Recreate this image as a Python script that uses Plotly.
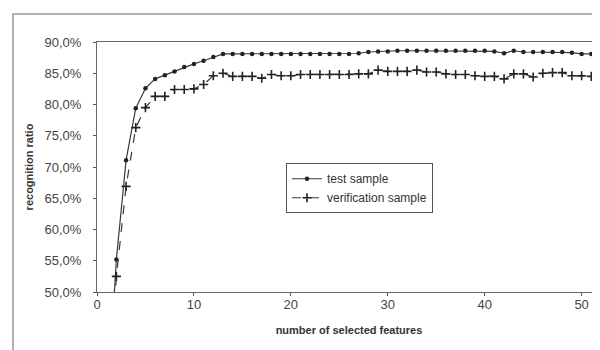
import plotly.graph_objects as go

features = list(range(1, 53))

test_sample = [
    30.0, 55.2, 71.1, 79.4, 82.6, 84.1, 84.7, 85.3, 86.0, 86.5,
    87.0, 87.6, 88.1, 88.1, 88.1, 88.1, 88.1, 88.1, 88.1, 88.1,
    88.1, 88.1, 88.1, 88.1, 88.1, 88.1, 88.2, 88.4, 88.5, 88.5,
    88.6, 88.6, 88.6, 88.6, 88.6, 88.6, 88.6, 88.6, 88.6, 88.6,
    88.5, 88.2, 88.6, 88.4, 88.4, 88.4, 88.4, 88.4, 88.3, 88.1,
    88.1, 88.1,
]

verification_sample = [
    28.0, 52.5, 66.9, 76.3, 79.5, 81.3, 81.3, 82.4, 82.4, 82.5,
    83.2, 84.6, 85.0, 84.5, 84.5, 84.5, 84.2, 84.8, 84.6, 84.6,
    84.8, 84.8, 84.8, 84.8, 84.8, 84.8, 84.9, 84.9, 85.5, 85.3,
    85.3, 85.3, 85.5, 85.2, 85.2, 84.9, 84.8, 84.8, 84.6, 84.5,
    84.5, 84.1, 84.9, 84.9, 84.4, 85.0, 85.1, 85.1, 84.6, 84.6,
    84.5, 84.5,
]

y_tick_vals = [50, 55, 60, 65, 70, 75, 80, 85, 90]
y_tick_text = ["50,0%", "55,0%", "60,0%", "65,0%", "70,0%", "75,0%", "80,0%", "85,0%", "90,0%"]
x_tick_vals = [0, 10, 20, 30, 40, 50]

FONT = "Liberation Sans, Arial, sans-serif"

fig = go.Figure()
fig.add_trace(go.Scatter(
    x=features, y=test_sample, name="test sample", mode="lines+markers",
    line=dict(color="#3a3a3a", width=1.2),
    marker=dict(symbol="circle", size=4.5, color="#222222"),
))
fig.add_trace(go.Scatter(
    x=features, y=verification_sample, name="verification sample", mode="lines+markers",
    line=dict(color="#3a3a3a", width=1.2, dash="dash"),
    marker=dict(symbol="cross-thin", size=6.5, color="#222222",
                line=dict(color="#222222", width=1.6)),
))

fig.update_layout(
    width=600, height=350,
    margin=dict(l=89, r=7, t=34, b=66),
    paper_bgcolor="white", plot_bgcolor="white",
    font=dict(family=FONT, color="#333333", size=12),
    showlegend=True,
    legend=dict(
        x=0.375, y=0.515, xanchor="left", yanchor="top",
        bordercolor="#555555", borderwidth=1, bgcolor="white",
        font=dict(size=12, color="#333333", family=FONT),
    ),
    xaxis=dict(
        range=[0, 52], tickvals=x_tick_vals, showgrid=False, zeroline=False,
        showline=True, linecolor="#666666", linewidth=1.2, mirror=True,
        ticks="outside", ticklen=3, tickcolor="#555555",
        ticklabelstandoff=-3,
        tickfont=dict(size=13, color="#444444"),
        title=dict(text="<b>number of selected features</b>",
                   font=dict(size=11, color="#333333"), standoff=15),
    ),
    yaxis=dict(
        range=[50, 90], tickvals=y_tick_vals, ticktext=y_tick_text,
        showgrid=False, zeroline=False,
        showline=True, linecolor="#666666", linewidth=1.2, mirror=True,
        ticks="outside", ticklen=3, tickcolor="#555555",
        ticklabelstandoff=9,
        tickfont=dict(size=13, color="#444444"),
        title=dict(text="<b>recognition ratio</b>",
                   font=dict(size=11, color="#333333"), standoff=8),
    ),
    shapes=[dict(
        type="rect", xref="paper", yref="paper",
        x0=-0.1667, x1=1.02, y0=-0.265, y1=1.1125,
        line=dict(color="#999999", width=1.5), layer="above",
    )],
)

fig.write_html("out.html")
